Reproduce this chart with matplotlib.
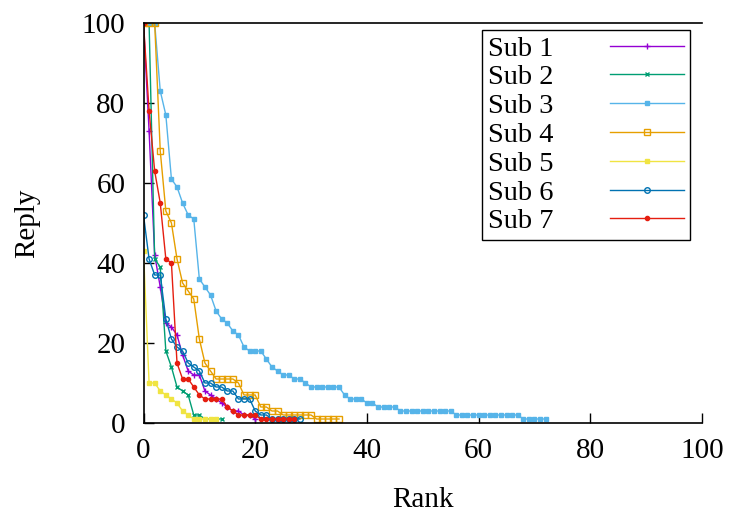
import numpy as np
import matplotlib.pyplot as plt

plt.rcParams['font.family'] = ['Liberation Serif', 'DejaVu Serif']

# reply counts per rank
sub1 = [100, 73, 42, 34, 25, 24, 22, 17, 13, 12, 12, 8, 7, 6, 5, 4, 3, 3, 2, 2, 1]
sub2 = [100, 100, 41, 39, 18, 14, 9, 8, 7, 2, 2, 1, 1, 1, 1]
sub3 = [100, 100, 100, 83, 77, 61, 59, 55, 52, 51, 36, 34, 32, 28, 26, 25, 23, 22,
        19, 18, 18, 18, 16, 14, 13, 12, 12, 11, 11, 10, 9, 9, 9, 9, 9, 9, 7, 6, 6, 6,
        5, 5, 4, 4, 4, 4, 3, 3, 3, 3, 3, 3, 3, 3, 3, 3, 2, 2, 2, 2, 2, 2, 2, 2, 2, 2,
        2, 2, 1, 1, 1, 1, 1]
sub4 = [100, 100, 100, 68, 53, 50, 41, 35, 33, 31, 21, 15, 13, 11, 11, 11, 11, 10,
        7, 7, 7, 4, 4, 3, 3, 2, 2, 2, 2, 2, 2, 1, 1, 1, 1, 1]
sub5 = [43, 10, 10, 8, 7, 6, 5, 3, 2, 1, 1, 1, 1, 1]
sub6 = [52, 41, 37, 37, 26, 21, 19, 18, 15, 14, 13, 10, 10, 9, 9, 8, 8, 6, 6, 6, 3,
        2, 2, 1, 1, 1, 1, 1, 1]
sub7 = [100, 78, 63, 55, 41, 40, 15, 11, 11, 9, 7, 6, 6, 6, 6, 4, 3, 2, 2, 2, 2,
        1, 1, 1, 1, 1, 1, 1]

labels = ['Sub 1', 'Sub 2', 'Sub 3', 'Sub 4', 'Sub 5', 'Sub 6', 'Sub 7']
colors = ['#9400d3', '#009e73', '#56b4e9', '#e69f00', '#f0e442', '#0072b2', '#e51e10']
series = [sub1, sub2, sub3, sub4, sub5, sub6, sub7]
markers = ['+', 'x', 's', 's', 's', 'o', 'o']
filled = [True, True, True, False, True, False, True]
msizes = [4, 3.5, 3, 4, 3.5, 4, 3]

fig = plt.figure(figsize=(7.32, 5.11), dpi=100)
ax = fig.add_axes([143.5 / 732, 88 / 511, 558.5 / 732, 400 / 511])

for y, lab, c, m, f, ms in zip(series, labels, colors, markers, filled, msizes):
    x = np.arange(len(y))
    ax.plot(x, y, color=c, lw=1, marker=m, ms=ms, mew=1,
            mfc=c if f else 'none', mec=c, label=lab)

ax.set_xlim(0, 100)
ax.set_ylim(0, 100)
ax.set_xticks(np.arange(0, 101, 20))
ax.set_yticks(np.arange(0, 101, 20))
ax.tick_params(direction='in', length=7, width=1, labelsize=21)
ax.tick_params(axis='x', pad=11)
ax.tick_params(axis='y', pad=13)
ax.spines['right'].set_visible(False)
for s in ['left', 'bottom', 'top']:
    ax.spines[s].set_linewidth(1.2)
ax.set_xlabel('Rank', fontsize=21, labelpad=16)
ax.set_ylabel('Reply', fontsize=21, labelpad=30)

leg = ax.legend(loc='upper right', bbox_to_anchor=(0.9785, 0.9825), fontsize=20.5,
                markerfirst=False, numpoints=1, handlelength=2.6, fancybox=False,
                edgecolor='black', framealpha=1, borderpad=0.2, labelspacing=0.1,
                handletextpad=2.0, borderaxespad=0)
leg.get_frame().set_linewidth(1)

fig.savefig('out.png', dpi=100)
